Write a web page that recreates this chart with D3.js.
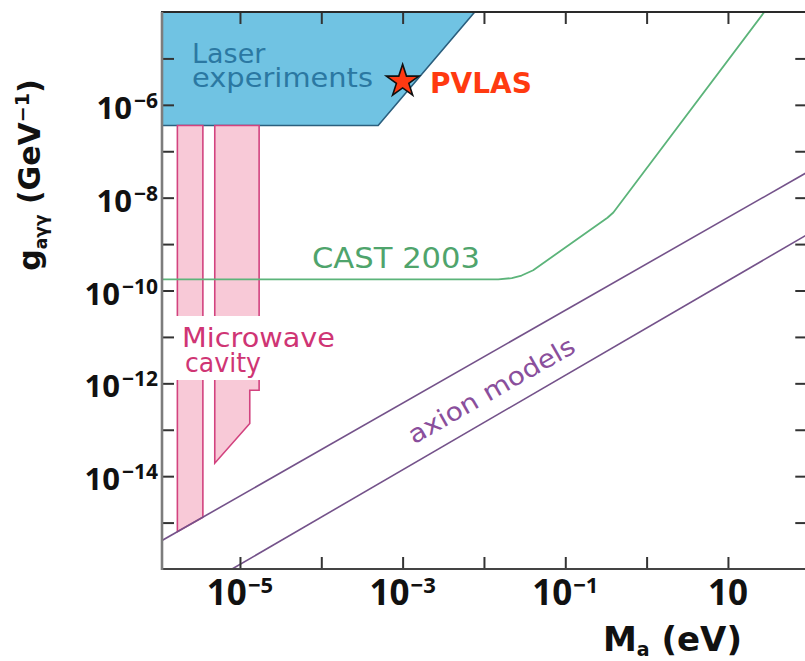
<!DOCTYPE html>
<html>
<head>
<meta charset="utf-8">
<script src="https://cdn.jsdelivr.net/npm/d3@7"></script>
<style>
  body { margin: 0; background: #fff; }
  svg { display: block; }
</style>
</head>
<body>
<svg id="chart" width="805" height="661"></svg>
<script>
// ---- axis decades and labels ----
const massDecades = [1e-5, 1e-4, 1e-3, 1e-2, 1e-1, 1, 10];
const couplingDecades = [1e-15, 1e-14, 1e-13, 1e-12, 1e-11, 1e-10, 1e-9, 1e-8, 1e-7, 1e-6, 1e-5];
const massLabelValues = [1e-5, 1e-3, 1e-1, 10];
const massLabelExponents = ["\u22125", "\u22123", "\u22121", ""];
const couplingLabelValues = [1e-6, 1e-8, 1e-10, 1e-12, 1e-14];
const couplingLabelExponents = ["\u22126", "\u22128", "\u221210", "\u221212", "\u221214"];

// ---- excluded regions and bounds: [mass (eV), coupling (GeV^-1)] ----
const laserRegion = [[1e-6, 1e-4], [7.7e-3, 1e-4], [5.0e-4, 3.6e-7], [1e-6, 3.6e-7]];
const cavityRegionA = [[1.7e-6, 3.6e-7], [3.5e-6, 3.6e-7], [3.5e-6, 1.3e-15], [1.7e-6, 6.4e-16]];
const cavityRegionB = [[4.9e-6, 3.6e-7], [1.72e-5, 3.6e-7], [1.72e-5, 7.1e-13], [1.32e-5, 7.1e-13],
                       [1.32e-5, 1.37e-13], [4.9e-6, 1.9e-14]];
const castMass = [1.1e-6, 1.5e-2, 2.2e-2, 2.9e-2, 4.03e-2, 3.3e-1, 3.9e-1, 28];
const castCoupling = [1.73e-10, 1.73e-10, 1.85e-10, 2.1e-10, 2.73e-10, 3.7e-9, 4.8e-9, 1e-4];
const axionUpper = [[1e-6, 3.74e-16], [100, 3.74e-8]];
const axionLower = [[8e-6, 1e-16], [100, 1.7e-9]];
const pvlas = [1e-3, 3.2e-6];

// ---- layout ----
const plotLeft = 162, plotTop = 12, plotBottom = 569;
const pxPerMassDecade = 81.33;
const massMin = 1.1e-6, massMax = 100;
const plotRight = plotLeft + (Math.log10(massMax) - Math.log10(massMin)) * pxPerMassDecade;

const x = d3.scaleLog().domain([massMin, massMax]).range([plotLeft, plotRight]);
const y = d3.scaleLog().domain([1e-16, 1e-4]).range([plotBottom, plotTop]);

const svg = d3.select("#chart");
svg.append("rect").attr("width", 805).attr("height", 661).attr("fill", "#fff");

svg.append("clipPath").attr("id", "plot-clip")
  .append("rect").attr("x", plotLeft).attr("y", plotTop)
  .attr("width", plotRight - plotLeft).attr("height", plotBottom - plotTop);

const plot = svg.append("g").attr("clip-path", "url(#plot-clip)");
const poly = d3.line().x(d => x(d[0])).y(d => y(d[1]));
const closed = pts => poly(pts) + "Z";

// laser experiments
plot.append("path").attr("d", closed(laserRegion))
  .attr("fill", "#70c3e3").attr("stroke", "#2b5f7e").attr("stroke-width", 1.6);

// microwave cavity experiments
[cavityRegionA, cavityRegionB].forEach(r => {
  plot.append("path").attr("d", closed(r))
    .attr("fill", "#f8c9d7").attr("stroke", "#d2437f").attr("stroke-width", 1.6);
});

// backing for the cavity label
plot.append("rect").attr("x", 170).attr("y", 316).attr("width", 180).attr("height", 64).attr("fill", "#fff");

// CAST 2003 bound
plot.append("path").datum(castMass.map((m, i) => [m, castCoupling[i]]))
  .attr("d", poly).attr("fill", "none").attr("stroke", "#5cb47a").attr("stroke-width", 1.8)
  .attr("stroke-linejoin", "round");

// axion model band
[axionUpper, axionLower].forEach(l => {
  plot.append("path").attr("d", poly(l)).attr("fill", "none")
    .attr("stroke", "#74528a").attr("stroke-width", 1.6);
});

// ---- region labels ----
const labelFont = "'DejaVu Sans', sans-serif";
svg.append("text").attr("x", 192).attr("y", 63).text("Laser")
  .attr("font-family", labelFont).attr("font-size", 27).attr("fill", "#2b78a2");
svg.append("text").attr("x", 192).attr("y", 87).text("experiments")
  .attr("font-family", labelFont).attr("font-size", 27).attr("fill", "#2b78a2")
  .attr("textLength", 181).attr("lengthAdjust", "spacingAndGlyphs");

svg.append("text").attr("x", 182).attr("y", 347).text("Microwave")
  .attr("font-family", labelFont).attr("font-size", 26).attr("fill", "#cf3574")
  .attr("textLength", 153).attr("lengthAdjust", "spacingAndGlyphs");
svg.append("text").attr("x", 185).attr("y", 372).text("cavity")
  .attr("font-family", labelFont).attr("font-size", 26).attr("fill", "#cf3574")
  .attr("textLength", 76).attr("lengthAdjust", "spacingAndGlyphs");

svg.append("text").attr("x", 312).attr("y", 268).text("CAST 2003")
  .attr("font-family", labelFont).attr("font-size", 28).attr("fill", "#4fa46c")
  .attr("textLength", 168).attr("lengthAdjust", "spacingAndGlyphs");

const bandAngle = Math.atan2(y(axionUpper[1][1]) - y(axionUpper[0][1]),
                             x(axionUpper[1][0]) - x(axionUpper[0][0])) * 180 / Math.PI;
svg.append("text")
  .attr("transform", `translate(${x(1.23e-2)},${y(7.1e-13)}) rotate(${bandAngle})`)
  .attr("text-anchor", "middle").attr("dy", "0.35em")
  .text("axion models")
  .attr("font-family", labelFont).attr("font-size", 25).attr("fill", "#8a4f9c")
  .attr("textLength", 188).attr("lengthAdjust", "spacingAndGlyphs");

// ---- frame and ticks ----
const tickColor = "#333";
const styleAxis = g => {
  g.select(".domain").remove();
  g.selectAll("line").attr("stroke", tickColor).attr("stroke-width", 2);
  g.selectAll("text").remove();
};
svg.append("g").attr("transform", `translate(0,${plotBottom})`)
  .call(d3.axisBottom(x).tickValues(massDecades).tickSize(-12).tickFormat("")).call(styleAxis);
svg.append("g").attr("transform", `translate(0,${plotTop})`)
  .call(d3.axisTop(x).tickValues(massDecades).tickSize(-12).tickFormat("")).call(styleAxis);
svg.append("g").attr("transform", `translate(${plotLeft},0)`)
  .call(d3.axisLeft(y).tickValues(couplingDecades).tickSize(-12).tickFormat("")).call(styleAxis);
svg.append("g").attr("transform", `translate(${plotRight},0)`)
  .call(d3.axisRight(y).tickValues(couplingDecades).tickSize(-14).tickFormat("")).call(styleAxis);

svg.append("line").attr("x1", plotLeft - 1).attr("x2", plotRight).attr("y1", plotTop).attr("y2", plotTop)
  .attr("stroke", "#2a2a2a").attr("stroke-width", 2);
svg.append("line").attr("x1", plotLeft - 1).attr("x2", plotRight).attr("y1", plotBottom).attr("y2", plotBottom)
  .attr("stroke", "#444").attr("stroke-width", 2.2);
svg.append("line").attr("x1", plotLeft).attr("x2", plotLeft).attr("y1", plotTop).attr("y2", plotBottom + 1)
  .attr("stroke", "#7d7d7d").attr("stroke-width", 2.6);
svg.append("line").attr("x1", plotRight).attr("x2", plotRight).attr("y1", plotTop).attr("y2", plotBottom)
  .attr("stroke", "#444").attr("stroke-width", 2);

// ---- PVLAS point ----
const star = d3.symbol().type(d3.symbolStar).size(330);
svg.append("path").attr("d", star())
  .attr("transform", `translate(${x(pvlas[0])},${y(pvlas[1])})`)
  .attr("fill", "#ff3a12").attr("stroke", "#111").attr("stroke-width", 1.6);
svg.append("text").attr("x", 430).attr("y", 93).text("PVLAS")
  .attr("font-family", labelFont).attr("font-weight", "bold").attr("font-size", 28).attr("fill", "#ff3a10");

// ---- tick labels ----
const tickFont = "'Open Sans', sans-serif";
massLabelValues.forEach((v, i) => {
  const t = svg.append("text").attr("x", x(v)).attr("y", 605).attr("text-anchor", "middle")
    .attr("font-family", tickFont).attr("font-weight", "bold").attr("fill", "#111");
  t.append("tspan").attr("font-size", 35).text("10");
  if (massLabelExponents[i]) {
    t.append("tspan").attr("font-size", 22).attr("dy", -12).attr("dx", 1).text(massLabelExponents[i]);
  }
});
couplingLabelValues.forEach((v, i) => {
  const t = svg.append("text").attr("x", 158).attr("y", y(v) + 14).attr("text-anchor", "end")
    .attr("font-family", tickFont).attr("font-weight", "bold").attr("fill", "#111");
  t.append("tspan").attr("font-size", 31).text("10");
  t.append("tspan").attr("font-size", 21).attr("dy", -11).attr("dx", 2).text(couplingLabelExponents[i]);
});

// ---- axis titles ----
const titleFont = "'DejaVu Sans', sans-serif";
const xt = svg.append("text").attr("x", 603).attr("y", 651)
  .attr("font-family", titleFont).attr("font-weight", "bold").attr("fill", "#111");
xt.append("tspan").attr("font-size", 34).text("M");
xt.append("tspan").attr("font-size", 19).attr("dy", 5).text("a");
xt.append("tspan").attr("font-size", 34).attr("dy", -5).text(" (eV)");

const yt = svg.append("text").attr("transform", "translate(40,175) rotate(-90)")
  .attr("text-anchor", "middle")
  .attr("font-family", titleFont).attr("font-weight", "bold").attr("fill", "#111");
yt.append("tspan").attr("font-size", 30).text("g");
yt.append("tspan").attr("font-size", 17).attr("dy", 7).text("a\u03b3\u03b3");
yt.append("tspan").attr("font-size", 30).attr("dy", -7).text(" (GeV");
yt.append("tspan").attr("font-size", 19).attr("dy", -11).text("\u22121");
yt.append("tspan").attr("font-size", 30).attr("dy", 11).text(")");
</script>
</body>
</html>
